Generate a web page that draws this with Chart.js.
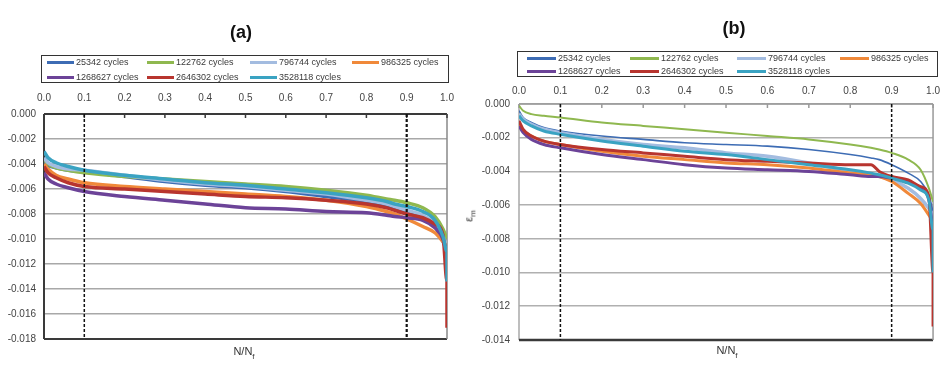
<!DOCTYPE html>
<html><head><meta charset="utf-8">
<script src="https://cdn.jsdelivr.net/npm/chart.js@4/dist/chart.umd.min.js"></script>
<style>
body{margin:0;background:#fff;width:947px;height:370px;overflow:hidden;position:relative;font-family:"Liberation Sans",Arial,sans-serif;}
canvas{position:absolute;top:0;}
.title{position:absolute;font-weight:bold;font-size:18px;color:#111;transform:translate(-50%,-50%);}
.legend{position:absolute;border:1.5px solid #333;box-sizing:border-box;}
.item{position:absolute;font-size:9px;color:#3a3a3a;white-space:nowrap;line-height:10px;transform:translateY(-50%);}
.item .ln{display:inline-block;width:27px;height:3px;vertical-align:middle;margin-right:2px;}
.xt{position:absolute;font-size:11px;color:#333;transform:translate(-50%,-50%);}
.yt{position:absolute;font-size:11px;color:#333;transform:translate(-50%,-50%) rotate(-90deg);}
</style></head>
<body>
<canvas id="ca" width="470" height="370" style="left:0"></canvas>
<canvas id="cb" width="477" height="370" style="left:470px"></canvas>
<div class="title" style="left:241px;top:32px">(a)</div>
<div class="title" style="left:734px;top:28px">(b)</div>
<div class="xt" style="left:244px;top:353px">N/N<sub style="font-size:8px">f</sub></div>
<div class="xt" style="left:727px;top:352px">N/N<sub style="font-size:8px">f</sub></div>
<div class="yt" style="left:470px;top:216px">ε<sub style="font-size:8px">m</sub></div>
<div id="lega" class="legend" style="left:41px;top:55px;width:408px;height:28px"></div>
<div id="legb" class="legend" style="left:517px;top:51px;width:421px;height:26px"></div>
<script>
// ---- data ----
const seriesNames = ['25342 cycles','122762 cycles','796744 cycles','986325 cycles','1268627 cycles','2646302 cycles','3528118 cycles'];
const seriesColors = ['#3d6cb4','#8fb84f','#a3bce0','#f0893a','#6c4398','#b8352f','#3aa3c2'];
const xTicks = [0,0.1,0.2,0.3,0.4,0.5,0.6,0.7,0.8,0.9,1.0];
const nf = [0,0.01,0.03,0.06,0.1,0.2,0.3,0.4,0.5,0.6,0.7,0.8,0.85,0.87,0.9,0.94,0.97,0.99,1.0];
const dashX = [0.1, 0.9];

// chart (a)
const a25342   = [-0.0038,-0.0041,-0.0043,-0.0045,-0.0046,-0.0050,-0.0054,-0.0057,-0.0059,-0.0062,-0.0066,-0.0070,-0.0073,-0.0075,-0.0078,-0.0083,-0.0090,-0.0102,-0.0110];
const a122762  = [-0.0036,-0.0040,-0.0043,-0.0045,-0.0047,-0.0050,-0.0052,-0.0054,-0.0056,-0.0058,-0.0061,-0.0065,-0.0068,-0.0069,-0.0071,-0.0075,-0.0082,-0.0092,-0.0100];
const a796744  = [-0.0035,-0.0039,-0.0042,-0.0044,-0.0045,-0.0049,-0.0053,-0.0056,-0.0058,-0.0061,-0.0064,-0.0069,-0.0072,-0.0074,-0.0077,-0.0081,-0.0088,-0.0098,-0.0108];
const a986325  = [-0.0040,-0.0044,-0.0049,-0.0052,-0.0055,-0.0058,-0.0060,-0.0062,-0.0064,-0.0066,-0.0069,-0.0074,-0.0078,-0.0080,-0.0084,-0.0090,-0.0095,-0.0102,-0.0106];
const a1268627 = [-0.0047,-0.0052,-0.0056,-0.0059,-0.0062,-0.0066,-0.0069,-0.0072,-0.0075,-0.0076,-0.0078,-0.0079,-0.0081,-0.0082,-0.0083,-0.0085,-0.0091,-0.0100,-0.0112];
const a2646302 = [-0.0042,-0.0047,-0.0051,-0.0055,-0.0058,-0.0060,-0.0062,-0.0064,-0.0066,-0.0067,-0.0069,-0.0072,-0.0075,-0.0077,-0.0080,-0.0083,-0.0088,-0.0097,-0.0134];
const a3528118 = [-0.0030,-0.0035,-0.0039,-0.0042,-0.0045,-0.0049,-0.0052,-0.0055,-0.0057,-0.0060,-0.0063,-0.0067,-0.0070,-0.0072,-0.0074,-0.0078,-0.0085,-0.0098,-0.0110];
const aTail    = [null,null,null,null,null,-0.0171,-0.0134];

// chart (b)
const b25342   = [-0.0004,-0.0008,-0.0011,-0.0014,-0.0016,-0.0019,-0.0021,-0.0023,-0.0024,-0.0025,-0.0027,-0.0030,-0.0032,-0.0033,-0.0036,-0.0041,-0.0046,-0.0054,-0.0064];
const b122762  = [-0.0001,-0.0004,-0.0006,-0.0007,-0.0008,-0.0011,-0.0013,-0.0015,-0.0017,-0.0019,-0.0021,-0.0024,-0.0026,-0.0027,-0.0029,-0.0033,-0.0039,-0.0050,-0.0058];
const b796744  = [-0.0006,-0.0009,-0.0012,-0.0015,-0.0017,-0.0021,-0.0024,-0.0026,-0.0029,-0.0031,-0.0035,-0.0040,-0.0042,-0.0043,-0.0045,-0.0050,-0.0056,-0.0062,-0.0066];
const b986325  = [-0.0012,-0.0016,-0.0019,-0.0022,-0.0024,-0.0028,-0.0031,-0.0033,-0.0035,-0.0036,-0.0038,-0.0041,-0.0042,-0.0043,-0.0046,-0.0053,-0.0059,-0.0066,-0.0070];
const b1268627 = [-0.0013,-0.0017,-0.0021,-0.0024,-0.0026,-0.0030,-0.0033,-0.0036,-0.0038,-0.0039,-0.0040,-0.0042,-0.0043,-0.0043,-0.0044,-0.0046,-0.0050,-0.0057,-0.0075];
const b2646302 = [-0.0010,-0.0015,-0.0019,-0.0022,-0.0024,-0.0027,-0.0029,-0.0031,-0.0033,-0.0034,-0.0035,-0.0036,-0.0036,-0.0040,-0.0043,-0.0045,-0.0049,-0.0055,-0.0100];
const b3528118 = [-0.0007,-0.0010,-0.0013,-0.0016,-0.0018,-0.0022,-0.0025,-0.0028,-0.0030,-0.0033,-0.0036,-0.0039,-0.0041,-0.0042,-0.0044,-0.0047,-0.0051,-0.0057,-0.0075];
const bTail    = [null,null,null,null,null,-0.0132,-0.0100];

const yMinA = -0.018, yMinB = -0.014, yStep = 0.002;

// ---- build ----
function buildSets(valuesList, tail, widths, yMin, dashW) {
  const n = valuesList.length;
  const sets = valuesList.map((vals, i) => {
    const pts = nf.map((x, k) => ({x: x, y: vals[k]}));
    if (tail[i] !== null) pts.push({x: 1.0, y: tail[i]});
    return {label: seriesNames[i], data: pts, borderColor: seriesColors[i],
      borderWidth: widths[i], pointRadius: 0, cubicInterpolationMode: 'monotone',
      order: n - i, fill: false};
  });
  dashX.forEach((x, j) => sets.push({label: 'dash', data: [{x: x, y: 0}, {x: x, y: yMin}],
    borderColor: '#111', borderWidth: dashW[j], borderDash: [3, 2], pointRadius: 0, order: 0}));
  return sets;
}

function framePlugin(c) {
  return {id: 'frame', beforeDatasetsDraw(chart) {
    const a = chart.chartArea, ctx = chart.ctx, xs = chart.scales.x;
    ctx.save();
    const seg = (x1, y1, x2, y2, col, w) => {ctx.strokeStyle = col; ctx.lineWidth = w; ctx.beginPath(); ctx.moveTo(x1, y1); ctx.lineTo(x2, y2); ctx.stroke();};
    seg(a.left, a.top, a.right, a.top, c.topCol, c.topW);
    seg(a.left, a.top, a.left, a.bottom, c.leftCol, c.leftW);
    seg(a.left, a.bottom, a.right, a.bottom, c.botCol, c.botW);
    seg(a.right, a.top, a.right, a.bottom, c.rightCol, 1.5);
    xTicks.forEach(t => { const px = xs.getPixelForValue(t); seg(px, a.top, px, a.top + 4, c.topCol, 1.5); });
    ctx.restore();
  }};
}

function makeChart(id, datasets, yMin, c) {
  new Chart(document.getElementById(id), {
    type: 'line',
    data: {datasets: datasets},
    options: {
      responsive: false, animation: false, events: [],
      layout: {padding: {top: c.padTop, right: c.padRight, bottom: c.padBottom, left: 0}},
      plugins: {legend: {display: false}, tooltip: {enabled: false}},
      scales: {
        x: {type: 'linear', position: 'top', min: 0, max: 1,
          afterBuildTicks: s => { s.ticks = xTicks.map(v => ({value: v})); },
          ticks: {callback: v => v.toFixed(1), padding: c.xPad, color: '#444', font: {family: 'Liberation Sans', size: 10}, maxRotation: 0, autoSkip: false},
          grid: {display: false, drawTicks: false}, border: {display: false},
          afterFit: s => { s.height = c.xH; }},
        y: {min: yMin, max: 0,
          ticks: {stepSize: yStep, callback: v => v.toFixed(3), padding: c.yPad, color: '#444', font: {family: 'Liberation Sans', size: 10}},
          grid: {color: c.gridCol, lineWidth: 1.6, drawTicks: false}, border: {display: false},
          afterFit: s => { s.width = c.yW; }}
      }
    },
    plugins: [framePlugin(c)]
  });
}

makeChart('ca', buildSets([a25342,a122762,a796744,a986325,a1268627,a2646302,a3528118], aTail, [3.5,3.5,3.5,3.5,3.5,3.5,3.5], yMinA, [1.5, 2.2]), yMinA,
  {padTop: 88, xH: 26, padRight: 23, padBottom: 31, yW: 44, xPad: 10, yPad: 8, gridCol: '#a8a8a8',
   topCol: '#3a3a3a', topW: 2, leftCol: '#3a3a3a', leftW: 2, botCol: '#3a3a3a', botW: 2, rightCol: '#888'});
makeChart('cb', buildSets([b25342,b122762,b796744,b986325,b1268627,b2646302,b3528118], bTail, [1.6,2,3.5,3,3,3,3], yMinB, [1.5, 1.5]), yMinB,
  {padTop: 78, xH: 26, padRight: 10, padBottom: 30, yW: 49, xPad: 7, yPad: 9, gridCol: '#b0b0b0',
   topCol: '#9a9a9a', topW: 1.5, leftCol: '#a8a8a8', leftW: 1.5, botCol: '#3a3a3a', botW: 2.5, rightCol: '#999'});

// legends
function buildLegend(id, colX, rowY, lineW) {
  const el = document.getElementById(id);
  seriesNames.forEach((name, i) => {
    const d = document.createElement('div');
    d.className = 'item';
    d.style.left = colX[i % 4] + 'px';
    d.style.top = rowY[Math.floor(i / 4)] + 'px';
    const ln = document.createElement('span');
    ln.className = 'ln'; ln.style.background = seriesColors[i]; ln.style.width = lineW + 'px';
    d.appendChild(ln);
    d.appendChild(document.createTextNode(name));
    el.appendChild(d);
  });
}
buildLegend('lega', [5, 105, 208, 310], [6, 21], 27);
buildLegend('legb', [9, 112, 219, 322], [6, 19], 29);
</script>
</body></html>
